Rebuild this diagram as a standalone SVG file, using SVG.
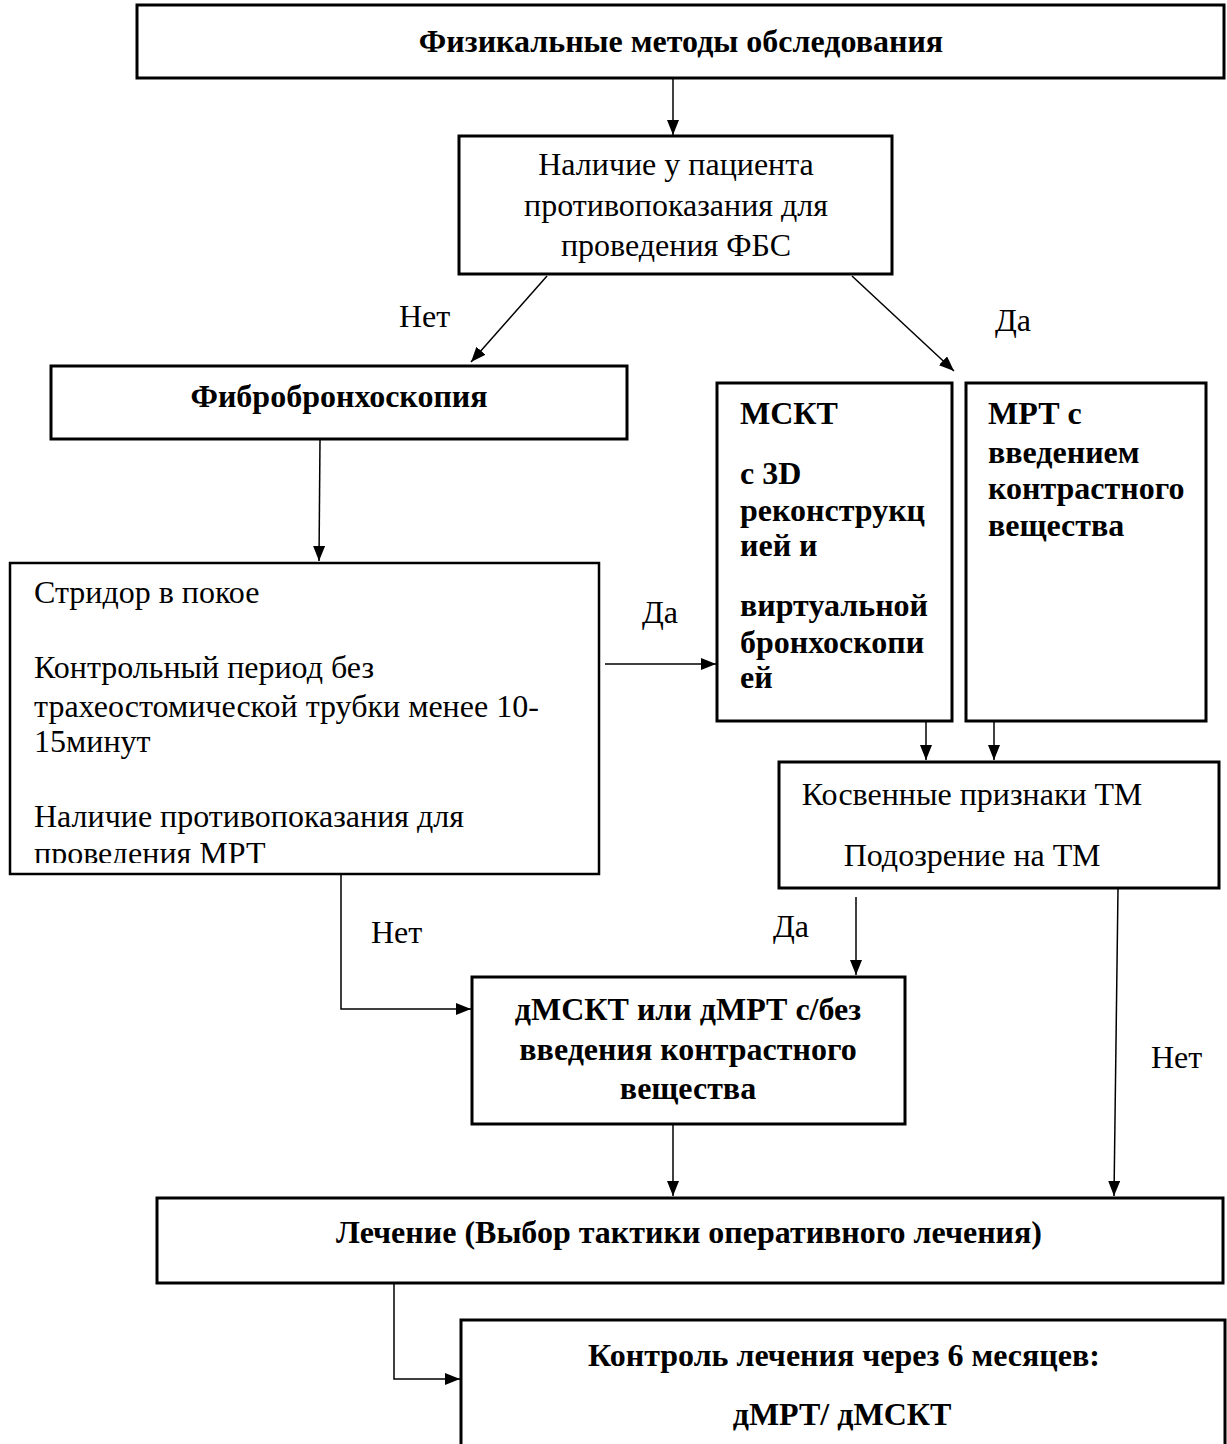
<svg xmlns="http://www.w3.org/2000/svg" width="1227" height="1444" viewBox="0 0 1227 1444">
<style>
.box{fill:#fff;stroke:#000;stroke-width:3}
.t{font-family:"Liberation Serif","Times New Roman",serif;font-size:32px;fill:#000}
.b{font-weight:bold}
.c{text-anchor:middle}
.con{stroke:#000;stroke-width:1.5;fill:none}
</style>
<defs>
<marker id="ah" markerUnits="userSpaceOnUse" markerWidth="15" markerHeight="12" refX="15" refY="6" orient="auto">
<path d="M0,0 L15,6 L0,12 Z" fill="#000"/>
</marker>
<clipPath id="clip4"><rect x="10" y="563" width="588" height="300"/></clipPath>
</defs>
<rect width="1227" height="1444" fill="#fff"/>
<g id="connectors">
<line class="con" x1="673" y1="78" x2="673" y2="135" marker-end="url(#ah)"/>
<line class="con" x1="547" y1="276" x2="471" y2="362" marker-end="url(#ah)"/>
<line class="con" x1="852" y1="276" x2="954" y2="371" marker-end="url(#ah)"/>
<line class="con" x1="320" y1="440" x2="319" y2="561" marker-end="url(#ah)"/>
<line class="con" x1="605" y1="664" x2="716" y2="664" marker-end="url(#ah)"/>
<line class="con" x1="926" y1="721" x2="926" y2="760" marker-end="url(#ah)"/>
<line class="con" x1="994" y1="721" x2="994" y2="760" marker-end="url(#ah)"/>
<line class="con" x1="856" y1="897" x2="856" y2="975" marker-end="url(#ah)"/>
<polyline class="con" points="341,874 341,1009 471,1009" marker-end="url(#ah)"/>
<line class="con" x1="673" y1="1124" x2="673" y2="1196" marker-end="url(#ah)"/>
<line class="con" x1="1118" y1="889" x2="1114" y2="1196" marker-end="url(#ah)"/>
<polyline class="con" points="394,1283 394,1379 460,1379" marker-end="url(#ah)"/>
<text class="t" x="399" y="327">Нет</text>
<text class="t" x="995" y="331">Да</text>
<text class="t" x="642" y="623">Да</text>
<text class="t" x="773" y="937">Да</text>
<text class="t" x="371" y="943">Нет</text>
<text class="t" x="1151" y="1068">Нет</text>
</g>
<g id="n1">
<rect class="box" x="137" y="5" width="1087" height="73"/>
<text class="t b c" x="681" y="52">Физикальные методы обследования</text>
</g>
<g id="n2">
<rect class="box" x="459" y="136" width="433" height="138"/>
<text class="t c" x="676" y="175">Наличие у пациента</text>
<text class="t c" x="676" y="216">противопоказания для</text>
<text class="t c" x="676" y="256">проведения ФБС</text>
</g>
<g id="n3">
<rect class="box" x="51" y="366" width="576" height="73"/>
<text class="t b c" x="339" y="407">Фибробронхоскопия</text>
</g>
<g id="n4">
<rect class="box" x="10" y="563" width="589" height="311" style="stroke-width:2.5"/>
<g clip-path="url(#clip4)">
<text class="t" x="34" y="603">Стридор в покое</text>
<text class="t" x="34" y="678">Контрольный период без</text>
<text class="t" x="34" y="717">трахеостомической трубки менее 10-</text>
<text class="t" x="34" y="752">15минут</text>
<text class="t" x="34" y="827">Наличие противопоказания для</text>
<text class="t" x="34" y="864">проведения МРТ</text>
</g>
</g>
<g id="n5">
<rect class="box" x="717" y="383" width="235" height="338"/>
<text class="t b" x="740" y="424">МСКТ</text>
<text class="t b" x="740" y="484">с 3D</text>
<text class="t b" x="740" y="521">реконструкц</text>
<text class="t b" x="740" y="556">ией и</text>
<text class="t b" x="740" y="616">виртуальной</text>
<text class="t b" x="740" y="653">бронхоскопи</text>
<text class="t b" x="740" y="688">ей</text>
</g>
<g id="n6">
<rect class="box" x="966" y="383" width="240" height="338"/>
<text class="t b" x="988" y="424">МРТ с</text>
<text class="t b" x="988" y="463">введением</text>
<text class="t b" x="988" y="499">контрастного</text>
<text class="t b" x="988" y="536">вещества</text>
</g>
<g id="n7">
<rect class="box" x="779" y="762" width="440" height="126"/>
<text class="t c" x="972" y="805">Косвенные признаки ТМ</text>
<text class="t c" x="972" y="866">Подозрение на ТМ</text>
</g>
<g id="n8">
<rect class="box" x="472" y="977" width="433" height="147"/>
<text class="t b c" x="688" y="1020">дМСКТ или дМРТ с/без</text>
<text class="t b c" x="688" y="1060">введения контрастного</text>
<text class="t b c" x="688" y="1099">вещества</text>
</g>
<g id="n9">
<rect class="box" x="157" y="1198" width="1066" height="85"/>
<text class="t b c" x="689" y="1243">Лечение (Выбор тактики оперативного лечения)</text>
</g>
<g id="n10">
<rect class="box" x="461" y="1320" width="764" height="140"/>
<text class="t b c" x="844" y="1366">Контроль лечения через 6 месяцев:</text>
<text class="t b c" x="842" y="1425">дМРТ/ дМСКТ</text>
</g>
</svg>
